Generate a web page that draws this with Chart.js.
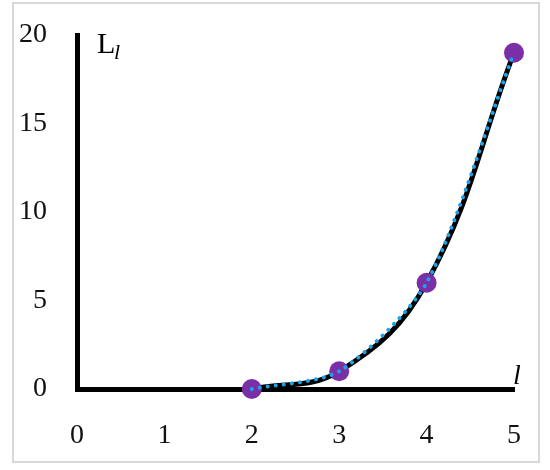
<!DOCTYPE html>
<html>
<head>
<meta charset="utf-8">
<script src="https://cdn.jsdelivr.net/npm/chart.js@4.4.1/dist/chart.umd.min.js"></script>
<style>
    body { margin: 0; background: #fff; }
    #wrap { width: 550px; height: 470px; }
</style>
</head>
<body>
<div id="wrap"><canvas id="chart" width="550" height="470"></canvas></div>
<script>
// Data
const xValues = [2, 3, 4, 5];
const yValues = [0, 1, 6, 19];
const xTickRange = [0, 5];
const yTickRange = [0, 20];
const yTickStep = 5;

const FONT = "'Liberation Serif', 'DejaVu Serif', serif";

const points = xValues.map((x, i) => ({ x: x, y: yValues[i] }));

// frame and axis labels
const decorations = {
    id: 'decorations',
    beforeDraw(chart) {
        const ctx = chart.ctx;
        ctx.save();
        ctx.fillStyle = '#fff';
        ctx.fillRect(0, 0, chart.width, chart.height);
        ctx.strokeStyle = '#d9d9d9';
        ctx.lineWidth = 2;
        ctx.strokeRect(13, 3, 526, 459);
        ctx.restore();
    },
    afterDraw(chart) {
        const ctx = chart.ctx;
        const area = chart.chartArea;
        ctx.save();
        ctx.fillStyle = '#000';
        ctx.textBaseline = 'alphabetic';
        // y axis title: L with italic subscript l
        ctx.font = '30px ' + FONT;
        ctx.textAlign = 'left';
        ctx.fillText('L', area.left + 20, area.top + 18);
        ctx.font = 'italic 22px ' + FONT;
        ctx.fillText('l', area.left + 37, area.top + 24);
        // x axis title
        ctx.font = 'italic 28px ' + FONT;
        ctx.textAlign = 'center';
        ctx.fillText('l', area.right + 3, area.bottom - 5);
        ctx.restore();
    }
};

new Chart(document.getElementById('chart'), {
    type: 'line',
    data: {
        datasets: [
            {
                // dotted blue line on top
                data: points,
                borderColor: '#1aa3e8',
                borderWidth: 4,
                borderDash: [0.1, 8],
                borderCapStyle: 'round',
                tension: 0.25,
                pointRadius: 0,
                fill: false,
                clip: false,
                order: 1
            },
            {
                // purple markers
                data: points,
                showLine: false,
                pointRadius: 10,
                pointBackgroundColor: '#7b2fa6',
                pointBorderColor: '#7b2fa6',
                pointBorderWidth: 0,
                clip: false,
                order: 2
            },
            {
                // black smooth curve
                data: points,
                borderColor: '#000',
                borderWidth: 5,
                tension: 0.4,
                pointRadius: 0,
                fill: false,
                clip: false,
                order: 3
            }
        ]
    },
    options: {
        responsive: false,
        animation: false,
        events: [],
        layout: {
            padding: { top: 35, right: 36, left: 0, bottom: 0 }
        },
        plugins: {
            legend: { display: false },
            tooltip: { enabled: false }
        },
        scales: {
            x: {
                type: 'linear',
                min: xTickRange[0],
                max: xTickRange[1],
                grid: { display: false, drawTicks: false },
                border: { display: true, color: '#000', width: 5 },
                ticks: {
                    stepSize: 1,
                    padding: 30,
                    color: '#111',
                    font: { family: FONT, size: 28 }
                },
                afterFit(scale) {
                    scale.height = 81;
                    scale.paddingLeft = 0;
                    scale.paddingRight = 0;
                }
            },
            y: {
                min: yTickRange[0],
                max: yTickRange[1],
                grid: { display: false, drawTicks: false },
                border: { display: true, color: '#000', width: 5 },
                ticks: {
                    stepSize: yTickStep,
                    padding: 30,
                    color: '#111',
                    font: { family: FONT, size: 28 }
                },
                afterFit(scale) {
                    scale.width = 77;
                    scale.paddingTop = 0;
                    scale.paddingBottom = 0;
                }
            }
        }
    },
    plugins: [decorations]
});
</script>
</body>
</html>
